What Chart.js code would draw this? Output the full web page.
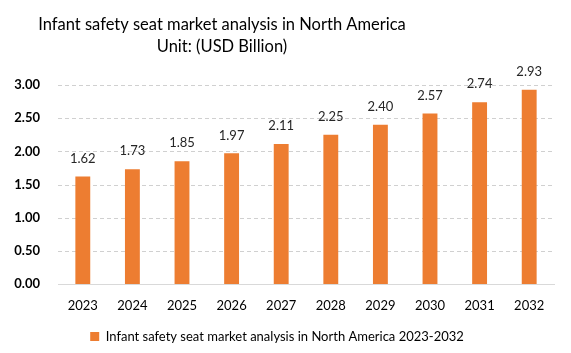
<!DOCTYPE html>
<html>
<head>
<meta charset="utf-8">
<script src="https://cdn.jsdelivr.net/npm/chart.js@4.4.0/dist/chart.umd.min.js"></script>
<style>
  html, body { margin: 0; padding: 0; background: #fff; }
  #wrap { width: 571px; height: 353px; }
</style>
</head>
<body>
<div id="wrap"><canvas id="barChart"></canvas></div>
<script>
const years = ["2023", "2024", "2025", "2026", "2027", "2028", "2029", "2030", "2031", "2032"];
const marketValues = [1.62, 1.73, 1.85, 1.97, 2.11, 2.25, 2.40, 2.57, 2.74, 2.93];
const titleLines = ["Infant safety seat market analysis in North America", "Unit: (USD Billion)"];
const seriesName = "Infant safety seat market analysis in North America 2023-2032";

const FONT = "Lato, 'Open Sans', sans-serif";

// title is drawn a bit left of center in the original
const titlePlugin = {
    id: "titleText",
    afterDraw(chart) {
        const ctx = chart.ctx;
        ctx.save();
        ctx.fillStyle = "#000";
        ctx.textAlign = "center";
        ctx.textBaseline = "middle";
        ctx.font = "16.5px " + FONT;
        ctx.fillText(titleLines[0], 222, 25);
        ctx.fillText(titleLines[1], 222, 47);
        ctx.restore();
    }
};

// dashed horizontal grid lines at the y ticks
const dashedGrid = {
    id: "dashedGrid",
    beforeDatasetsDraw(chart) {
        const ctx = chart.ctx;
        const y = chart.scales.y;
        const area = chart.chartArea;
        ctx.save();
        ctx.strokeStyle = "#d0d0d0";
        ctx.lineWidth = 1;
        ctx.setLineDash([4, 3]);
        y.ticks.forEach((t) => {
            if (t.value === 0) return;
            const py = Math.round(y.getPixelForValue(t.value)) + 0.5;
            ctx.beginPath();
            ctx.moveTo(area.left, py);
            ctx.lineTo(area.right, py);
            ctx.stroke();
        });
        ctx.restore();
    }
};

const valueLabels = {
    id: "valueLabels",
    afterDatasetsDraw(chart) {
        const ctx = chart.ctx;
        const meta = chart.getDatasetMeta(0);
        ctx.save();
        ctx.fillStyle = "#262626";
        ctx.textAlign = "center";
        ctx.textBaseline = "middle";
        ctx.font = "13px " + FONT;
        meta.data.forEach((bar, i) => {
            ctx.fillText(marketValues[i].toFixed(2), bar.x, bar.y - 18);
        });
        ctx.restore();
    }
};

new Chart(document.getElementById("barChart"), {
    type: "bar",
    data: {
        labels: years,
        datasets: [
            {
                label: seriesName,
                data: marketValues,
                backgroundColor: "#ED7D31",
                barPercentage: 0.3,
                categoryPercentage: 1.0,
            },
        ],
    },
    options: {
        responsive: true,
        maintainAspectRatio: false,
        animation: false,
        layout: { padding: { top: 85, right: 17, left: 0, bottom: 0 } },
        plugins: {
            title: { display: false },
            tooltip: { enabled: false },
            legend: {
                position: "bottom",
                labels: {
                    boxWidth: 9,
                    boxHeight: 9,
                    color: "#000",
                    font: { family: FONT, size: 13 },
                    padding: 8,
                },
            },
        },
        scales: {
            x: {
                grid: { display: false },
                border: { color: "#d9d9d9" },
                ticks: { color: "#000", font: { family: FONT, size: 13 }, padding: 6 },
                afterFit: (s) => { s.height = 38; },
            },
            y: {
                min: 0,
                max: 3,
                ticks: {
                    stepSize: 0.5,
                    color: "#000",
                    font: { family: FONT, size: 13, weight: "bold" },
                    padding: 10,
                    callback: (v) => v.toFixed(2),
                },
                grid: { display: false },
                border: { display: false },
                afterFit: (s) => { s.width = 58; },
            },
        },
    },
    plugins: [titlePlugin, dashedGrid, valueLabels],
});
</script>
</body>
</html>
